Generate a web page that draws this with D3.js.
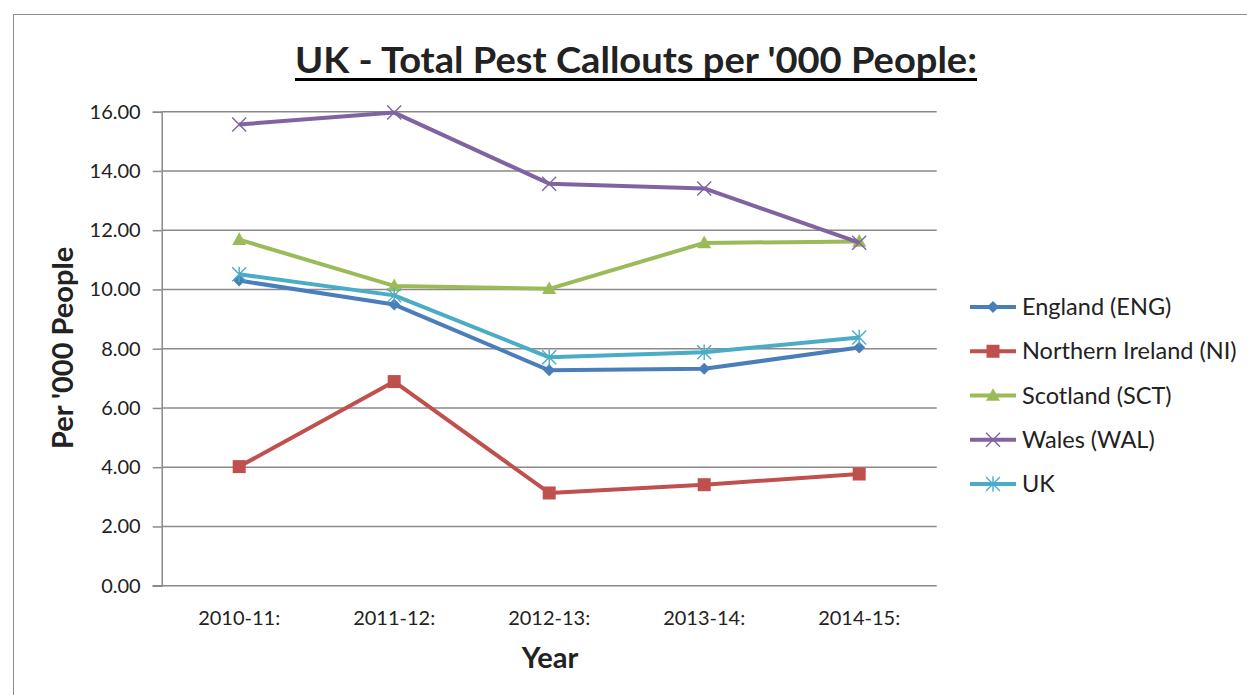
<!DOCTYPE html>
<html>
<head>
<meta charset="utf-8">
<script src="https://cdn.jsdelivr.net/npm/d3@7"></script>
<style>
  html, body { margin: 0; padding: 0; background: #fff; }
  svg { display: block; }
  text { font-family: Lato, "Open Sans", sans-serif; fill: #222; }
</style>
</head>
<body>
<svg id="chart" width="1247" height="695"></svg>
<script>
// ---- data ----
const categories = ["2010-11:", "2011-12:", "2012-13:", "2013-14:", "2014-15:"];
const england = [10.30, 9.49, 7.27, 7.32, 8.04];
const northernIreland = [4.02, 6.89, 3.13, 3.41, 3.77];
const scotland = [11.68, 10.12, 10.02, 11.57, 11.62];
const wales = [15.57, 15.97, 13.57, 13.41, 11.58];
const uk = [10.51, 9.80, 7.71, 7.88, 8.38];
const seriesNames = ["England (ENG)", "Northern Ireland (NI)", "Scotland (SCT)", "Wales (WAL)", "UK"];
const yTicks = [0, 2, 4, 6, 8, 10, 12, 14, 16];
const titleText = "UK - Total Pest Callouts per '000 People:";
const xTitle = "Year";
const yTitle = "Per '000 People";

const series = [
  { name: seriesNames[0], values: england, color: "#4A7EBB", marker: "diamond" },
  { name: seriesNames[1], values: northernIreland, color: "#C0504D", marker: "square" },
  { name: seriesNames[2], values: scotland, color: "#9BBB59", marker: "triangle" },
  { name: seriesNames[3], values: wales, color: "#8064A2", marker: "x" },
  { name: seriesNames[4], values: uk, color: "#4BACC6", marker: "star" }
];

const svg = d3.select("#chart");

// chart border
svg.append("rect").attr("x", 13.5).attr("y", 14.5).attr("width", 1300).attr("height", 800)
  .attr("fill", "#fff").attr("stroke", "#8c8c8c").attr("stroke-width", 1);

const plot = { left: 161.7, right: 936.7, top: 111.7, bottom: 585.7 };

const x = d3.scaleBand().domain(categories).range([plot.left, plot.right]).paddingInner(0).paddingOuter(0);
const y = d3.scaleLinear().domain([0, 16]).range([plot.bottom, plot.top]);
const cx = c => x(c) + x.bandwidth() / 2;

// gridlines
svg.append("g").selectAll("line").data(yTicks.filter(t => t > 0)).join("line")
  .attr("x1", plot.left).attr("x2", plot.right)
  .attr("y1", d => y(d)).attr("y2", d => y(d))
  .attr("stroke", "#8a8a8a").attr("stroke-width", 1.5);

// y axis
const yAxis = svg.append("g").attr("transform", `translate(${plot.left},0)`)
  .call(d3.axisLeft(y).tickValues(yTicks).tickFormat(d3.format(".2f")).tickSize(9).tickPadding(12));
yAxis.select(".domain").attr("stroke", "#8a8a8a").attr("stroke-width", 1.5);
yAxis.selectAll(".tick line").attr("stroke", "#8a8a8a").attr("stroke-width", 1.5);
yAxis.selectAll(".tick text").style("font-family", "Lato, sans-serif").style("font-size", "20px").attr("fill", "#222");

// x axis line
svg.append("line").attr("x1", plot.left - 9).attr("x2", plot.right)
  .attr("y1", plot.bottom).attr("y2", plot.bottom)
  .attr("stroke", "#8a8a8a").attr("stroke-width", 1.5);

// x labels
svg.append("g").selectAll("text").data(categories).join("text")
  .attr("x", d => cx(d)).attr("y", 625)
  .attr("text-anchor", "middle").style("font-size", "20px").text(d => d);

// titles
const title = svg.append("text").attr("x", 636).attr("y", 72.7).attr("text-anchor", "middle")
  .style("font-size", "36px").style("font-weight", "bold").attr("fill", "#000").text(titleText);
title.attr("textLength", 682).attr("lengthAdjust", "spacingAndGlyphs");
svg.append("line").attr("x1", 636 - 341).attr("x2", 636 + 341).attr("y1", 79.5).attr("y2", 79.5)
  .attr("stroke", "#000").attr("stroke-width", 3);

svg.append("text").attr("x", 550).attr("y", 668).attr("text-anchor", "middle")
  .style("font-size", "29px").style("font-weight", "bold").attr("fill", "#000").text(xTitle);

svg.append("text").attr("transform", "translate(73,348) rotate(-90)").attr("text-anchor", "middle")
  .style("font-size", "29px").style("font-weight", "bold").attr("fill", "#000").text(yTitle);

// markers
function drawMarker(g, type, color, px, py, size) {
  const s = size / 2;
  if (type === "diamond") {
    g.append("path").attr("d", `M${px},${py - s}L${px + s},${py}L${px},${py + s}L${px - s},${py}Z`).attr("fill", color);
  } else if (type === "square") {
    g.append("rect").attr("x", px - s).attr("y", py - s).attr("width", size).attr("height", size).attr("fill", color);
  } else if (type === "triangle") {
    g.append("path").attr("d", `M${px},${py - s * 1.05}L${px + s},${py + s * 0.75}L${px - s},${py + s * 0.75}Z`).attr("fill", color);
  } else if (type === "x") {
    g.append("path").attr("d", `M${px - s},${py - s}L${px + s},${py + s}M${px - s},${py + s}L${px + s},${py - s}`)
      .attr("stroke", color).attr("stroke-width", 1.4).attr("fill", "none");
  } else if (type === "star") {
    g.append("path").attr("d", `M${px - s},${py - s}L${px + s},${py + s}M${px - s},${py + s}L${px + s},${py - s}M${px},${py - s * 1.1}L${px},${py + s * 1.1}`)
      .attr("stroke", color).attr("stroke-width", 1.4).attr("fill", "none");
  }
}

const line = d3.line().x((d, i) => cx(categories[i])).y(d => y(d));

series.forEach(s => {
  const g = svg.append("g");
  g.append("path").datum(s.values).attr("d", line)
    .attr("fill", "none").attr("stroke", s.color).attr("stroke-width", 4).attr("stroke-linejoin", "round");
  const size = s.marker === "diamond" ? 12 : s.marker === "square" ? 13 : 14;
  s.values.forEach((v, i) => drawMarker(g, s.marker, s.color, cx(categories[i]), y(v), size));
});

// legend
const ly = d3.scalePoint().domain(seriesNames).range([307, 484]);
const legend = svg.append("g");
series.forEach(s => {
  const yy = ly(s.name);
  legend.append("line").attr("x1", 970).attr("x2", 1016).attr("y1", yy).attr("y2", yy)
    .attr("stroke", s.color).attr("stroke-width", 4);
  const size = s.marker === "diamond" ? 12 : s.marker === "square" ? 13 : 14;
  drawMarker(legend, s.marker, s.color, 993, yy, size);
  legend.append("text").attr("x", 1022).attr("y", yy).attr("dy", "0.35em")
    .style("font-size", "23.5px").text(s.name);
});
</script>
</body>
</html>
